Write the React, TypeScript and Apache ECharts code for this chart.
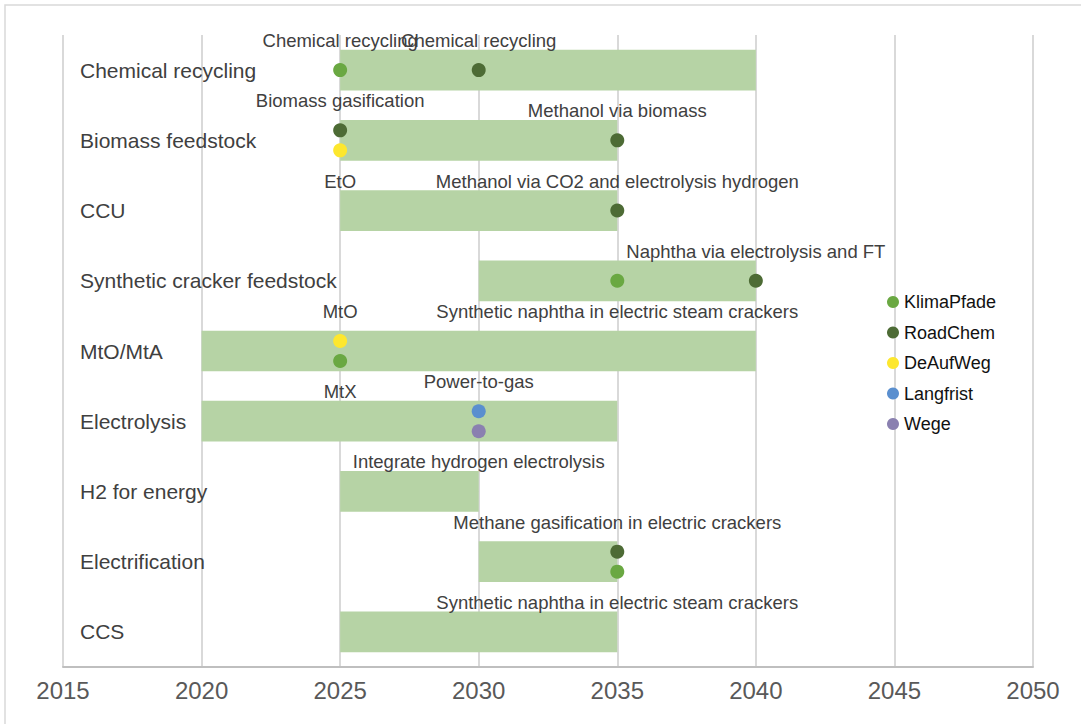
import React, { useEffect, useRef } from "react";
import * as echarts from "echarts";

const categories = [
  "Chemical recycling",
  "Biomass feedstock",
  "CCU",
  "Synthetic cracker feedstock",
  "MtO/MtA",
  "Electrolysis",
  "H2 for energy",
  "Electrification",
  "CCS",
];
const barStart = [2025, 2025, 2025, 2030, 2020, 2020, 2025, 2030, 2025];
const barEnd = [2040, 2035, 2035, 2040, 2040, 2035, 2030, 2035, 2035];

const xMin = 2015;
const xMax = 2050;
const xStep = 5;

// [year, category, slot (-1 upper, 0 middle, 1 lower), label]
type Pt = [number, string, number, string];

const klimaPfade: Pt[] = [
  [2025, "Chemical recycling", 0, "Chemical recycling"],
  [2035, "Synthetic cracker feedstock", 0, ""],
  [2025, "MtO/MtA", 1, ""],
  [2035, "Electrification", 1, ""],
];
const roadChem: Pt[] = [
  [2030, "Chemical recycling", 0, "Chemical recycling"],
  [2025, "Biomass feedstock", -1, "Biomass gasification"],
  [2035, "Biomass feedstock", 0, "Methanol via biomass"],
  [2035, "CCU", 0, "Methanol via CO2 and electrolysis hydrogen"],
  [2040, "Synthetic cracker feedstock", 0, "Naphtha via electrolysis and FT"],
  [2035, "Electrification", -1, "Methane gasification in electric crackers"],
];
const deAufWeg: Pt[] = [
  [2025, "Biomass feedstock", 1, ""],
  [2025, "MtO/MtA", -1, "MtO"],
];
const langfrist: Pt[] = [[2030, "Electrolysis", -1, "Power-to-gas"]];
const wege: Pt[] = [[2030, "Electrolysis", 1, ""]];
const labelOnly: Pt[] = [
  [2025, "CCU", 0, "EtO"],
  [2035, "MtO/MtA", -1, "Synthetic naphtha in electric steam crackers"],
  [2025, "Electrolysis", 0, "MtX"],
  [2030, "H2 for energy", 0, "Integrate hydrogen electrolysis"],
  [2035, "CCS", 0, "Synthetic naphtha in electric steam crackers"],
];

const scenarios: { name: string; color: string; pts: Pt[] }[] = [
  { name: "KlimaPfade", color: "#6aa842", pts: klimaPfade },
  { name: "RoadChem", color: "#4d6b35", pts: roadChem },
  { name: "DeAufWeg", color: "#fde72e", pts: deAufWeg },
  { name: "Langfrist", color: "#5a8fcf", pts: langfrist },
  { name: "Wege", color: "#8a80b0", pts: wege },
];

const FONT = "'Liberation Sans', Arial, sans-serif";
const SLOT_PX = 10;
const BAR_COLOR = "#b6d3a5";

function toData(pts: Pt[]) {
  return pts.map(([year, cat, slot, text]) => ({
    value: [year, categories.indexOf(cat)],
    symbolOffset: [0, slot * SLOT_PX],
    label: { show: text !== "", formatter: text },
  }));
}

function pointLabel(distance: number) {
  return {
    position: "top",
    distance,
    color: "#404040",
    opacity: 1,
    fontSize: 18.5,
    fontFamily: FONT,
  };
}

export default function App() {
  const ref = useRef<HTMLDivElement>(null);
  useEffect(() => {
    if (!ref.current) return;
    const chart = echarts.init(ref.current, undefined, { renderer: "svg" });
    const series: any[] = [
      {
        type: "bar",
        stack: "span",
        data: barStart,
        barWidth: "58%",
        itemStyle: { color: "transparent" },
        silent: true,
      },
      {
        type: "bar",
        stack: "span",
        data: barEnd.map((e, i) => e - barStart[i]),
        barWidth: "58%",
        itemStyle: { color: BAR_COLOR },
        silent: true,
      },
      ...scenarios.map((s) => ({
        type: "scatter",
        name: s.name,
        symbol: "circle",
        symbolSize: 14,
        itemStyle: { color: s.color, opacity: 1 },
        label: pointLabel(13),
        data: toData(s.pts),
        z: 3,
      })),
      {
        type: "scatter",
        name: "labels",
        symbol: "circle",
        symbolSize: 0.5,
        itemStyle: { color: BAR_COLOR, opacity: 1 },
        label: pointLabel(19.75),
        data: toData(labelOnly),
        silent: true,
        z: 3,
      },
    ];
    chart.setOption({
      animation: false,
      textStyle: { fontFamily: FONT },
      graphic: [
        {
          type: "rect",
          shape: { x: 5, y: 5, width: 1090, height: 730 },
          style: { fill: "none", stroke: "#d9d9d9", lineWidth: 1.5 },
          silent: true,
        },
      ],
      grid: { left: 63, right: 48, top: 35, bottom: 57, containLabel: false },
      legend: {
        data: scenarios.map((s) => s.name),
        orient: "vertical",
        left: 882,
        top: 288,
        icon: "circle",
        itemWidth: 12,
        itemHeight: 12,
        itemGap: 12.5,
        itemStyle: { opacity: 1 },
        textStyle: { fontSize: 18, color: "#111111", fontFamily: FONT },
        selectedMode: false,
      },
      xAxis: {
        type: "value",
        min: xMin,
        max: xMax,
        interval: xStep,
        axisLine: { show: true, lineStyle: { color: "#bfbfbf", width: 2 } },
        axisTick: { show: false },
        axisLabel: {
          color: "#595959",
          fontSize: 24,
          margin: 11,
          fontFamily: FONT,
          formatter: (v: number) => String(v),
        },
        splitLine: { show: true, lineStyle: { color: "#d9d9d9", width: 2 } },
      },
      yAxis: {
        type: "category",
        data: categories,
        inverse: true,
        axisLine: { show: false },
        axisTick: { show: false },
        splitLine: { show: false },
        axisLabel: {
          inside: true,
          margin: 17,
          color: "#404040",
          fontSize: 21,
          fontFamily: FONT,
        },
        z: 5,
      },
      series,
    });
    return () => chart.dispose();
  }, []);
  return (
    <div style={{ position: "absolute", left: 0, top: 0 }}>
      <div ref={ref} style={{ width: 1081, height: 724 }} />
    </div>
  );
}
